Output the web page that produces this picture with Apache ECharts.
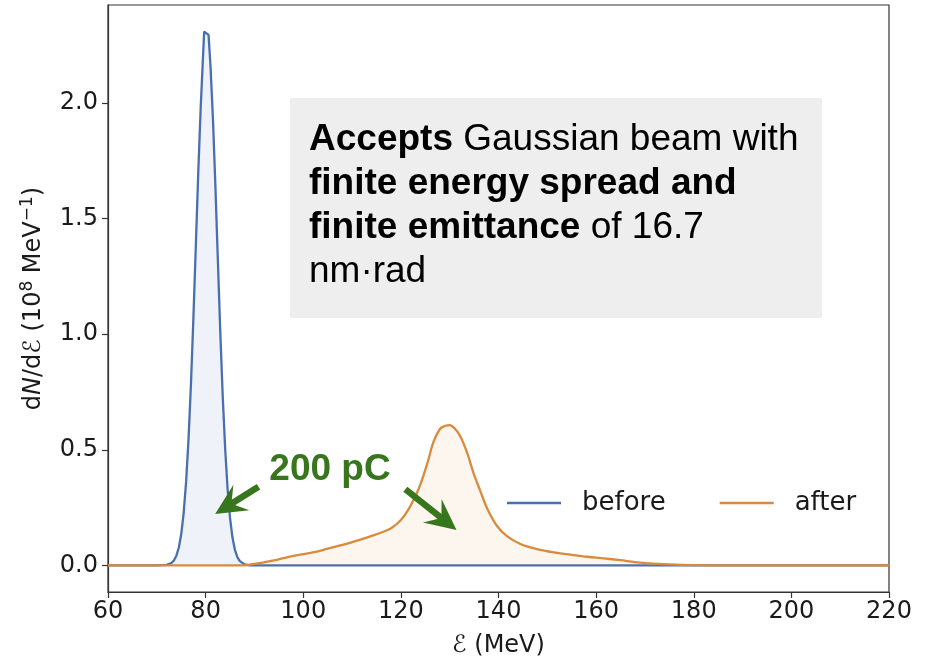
<!DOCTYPE html>
<html>
<head>
<meta charset="utf-8">
<script src="https://cdn.jsdelivr.net/npm/echarts@6/dist/echarts.min.js"></script>
<style>
  html, body { margin: 0; padding: 0; background: #ffffff; }
  #chart { width: 926px; height: 660px; }
</style>
</head>
<body>
<div id="chart"></div>
<script>
// Energy spectrum of the bunch before and after the stage.
// Energies in MeV, spectral density in 10^8 MeV^-1.
const energyBefore = [60, 70, 72, 73, 73.5, 74, 74.5, 75, 75.5, 76, 76.5, 77, 77.5, 78, 78.5, 79,
  79.7, 80.6, 81, 81.5, 82, 82.5, 83, 83.5, 84, 84.5, 85, 85.5, 86, 86.5, 87, 88, 89, 100, 220];
const densityBefore = [0, 0, 0.002, 0.010, 0.021, 0.041, 0.076, 0.134, 0.226, 0.361, 0.547, 0.787, 1.073, 1.388, 1.705, 1.985,
  2.31, 2.296, 2.16, 1.933, 1.643, 1.324, 1.012, 0.734, 0.506, 0.330, 0.205, 0.120, 0.067, 0.035, 0.018, 0.004, 0, 0, 0];

const energyAfter = [60, 80, 88, 90, 92, 94, 96, 98, 100, 102, 104, 106, 108, 110, 112, 114, 116, 118, 120, 121.5, 123, 124,
  125.4, 126.7, 128, 129, 130, 131, 132.2, 133.6, 134.9, 136.3, 137.7, 139.7, 141.8, 144.5, 147.9,
  151.3, 154.8, 158.2, 161.6, 165, 168, 171, 175, 180, 185, 200, 220];
const densityAfter = [0, 0, 0, 0.006, 0.013, 0.021, 0.031, 0.041, 0.048, 0.056, 0.066, 0.078, 0.088, 0.100, 0.113, 0.127, 0.142, 0.160, 0.196, 0.240, 0.30, 0.350,
  0.440, 0.535, 0.590, 0.603, 0.607, 0.593, 0.557, 0.485, 0.398, 0.320, 0.245, 0.170, 0.125, 0.092, 0.070,
  0.056, 0.046, 0.037, 0.030, 0.022, 0.014, 0.008, 0.004, 0.001, 0, 0, 0];

const yTicks = [0, 0.5, 1.0, 1.5, 2.0];
const seriesNames = ['before', 'after'];

// Annotation arrows, tail -> tip, in data coordinates
const arrowLeft = [[90.83, 0.340], [81.95, 0.222]];
const arrowRight = [[120.92, 0.329], [131.4, 0.153]];

const pair = (xs, ys) => xs.map((x, i) => [x, ys[i]]);

const BLUE = '#4a6fae';
const ORANGE = '#da8a3c';
const GREEN = '#38761d';
const INK = '#1a1a1a';
const AXIS = '#333333';
const TICK_FONT = 'DejaVu Sans';
const BOX_FONT = '"Liberation Sans", Arial, sans-serif';

const chart = echarts.init(document.getElementById('chart'), null, { renderer: 'canvas' });

chart.setOption({
  animation: false,
  backgroundColor: '#ffffff',
  grid: {
    left: 108, right: 37, top: 5, bottom: 68,
    outerBoundsMode: 'none', containLabel: false,
    show: true, borderColor: AXIS, borderWidth: 1.2, backgroundColor: '#ffffff'
  },
  legend: {
    data: seriesNames,
    left: 502, top: 485,
    itemWidth: 54, itemHeight: 14, itemGap: 54,
    icon: 'path://M0,6 L54,6 L54,8.4 L0,8.4 Z',
    textStyle: { fontFamily: TICK_FONT, fontSize: 26, color: INK, padding: [0, 0, 0, 16] }
  },
  xAxis: {
    type: 'value', min: 60, max: 220, interval: 20,
    name: 'ℰ (MeV)', nameLocation: 'middle', nameGap: 42,
    nameTextStyle: { fontFamily: TICK_FONT, fontSize: 24, color: INK },
    axisLine: { onZero: false, lineStyle: { color: AXIS, width: 1.2 } },
    axisTick: { show: true, length: 6, lineStyle: { color: AXIS, width: 1.2 } },
    axisLabel: { fontFamily: TICK_FONT, fontSize: 24, color: INK, margin: 8 },
    splitLine: { show: false }
  },
  yAxis: {
    type: 'value', min: -0.1156, max: 2.425,
    name: 'd{i|N}/dℰ (10{s|8} MeV{s|−1})', nameLocation: 'middle', nameGap: 60, nameRotate: 90,
    nameTextStyle: {
      fontFamily: TICK_FONT, fontSize: 24, color: INK,
      rich: {
        i: { fontFamily: TICK_FONT, fontSize: 24, fontStyle: 'italic', color: INK },
        s: { fontFamily: TICK_FONT, fontSize: 17, color: INK, padding: [0, 0, 12, 0] }
      }
    },
    axisLine: { show: true, lineStyle: { color: AXIS, width: 1.2 } },
    axisTick: { show: true, length: 6, customValues: yTicks, lineStyle: { color: AXIS, width: 1.2 } },
    axisLabel: {
      fontFamily: TICK_FONT, fontSize: 24, color: INK, margin: 10,
      customValues: yTicks, formatter: (v) => v.toFixed(1)
    },
    splitLine: { show: false }
  },
  series: [
    {
      name: seriesNames[0], type: 'line', data: pair(energyBefore, densityBefore),
      symbol: 'none', smooth: false, z: 2,
      lineStyle: { color: BLUE, width: 2.3 },
      itemStyle: { color: BLUE },
      areaStyle: { color: 'rgba(74,111,174,0.13)' }
    },
    {
      name: seriesNames[1], type: 'line', data: pair(energyAfter, densityAfter),
      symbol: 'none', smooth: 0.35, z: 3,
      lineStyle: { color: ORANGE, width: 2.3 },
      itemStyle: { color: ORANGE },
      areaStyle: { color: 'rgba(234,150,70,0.12)' }
    }
  ]
});

// Green arrow: shaft plus notched head, built from data-space endpoints
function arrowGraphics(arrow) {
  const p0 = chart.convertToPixel({ gridIndex: 0 }, arrow[0]);
  const p1 = chart.convertToPixel({ gridIndex: 0 }, arrow[1]);
  const dx = p1[0] - p0[0], dy = p1[1] - p0[1];
  const len = Math.hypot(dx, dy);
  const ux = dx / len, uy = dy / len;      // along the arrow
  const nx = -uy, ny = ux;                 // normal
  const L = 31, W = 30, notch = 0.62 * L;
  const tip = p1;
  const back = [tip[0] - ux * L, tip[1] - uy * L];
  const c1 = [back[0] + nx * W / 2, back[1] + ny * W / 2];
  const c2 = [back[0] - nx * W / 2, back[1] - ny * W / 2];
  const mid = [tip[0] - ux * notch, tip[1] - uy * notch];
  return [
    {
      type: 'line', z: 50, silent: true,
      shape: { x1: p0[0], y1: p0[1], x2: mid[0] + ux * 2, y2: mid[1] + uy * 2 },
      style: { stroke: GREEN, lineWidth: 6.5 }
    },
    {
      type: 'polygon', z: 51, silent: true,
      shape: { points: [tip, c1, mid, c2] },
      style: { fill: GREEN }
    }
  ];
}

chart.setOption({
  graphic: [
    {
      type: 'rect', z: 100,
      shape: { x: 290, y: 98, width: 532, height: 220 },
      style: { fill: '#eeeeee' }
    },
    {
      type: 'text', z: 101, x: 309, y: 118,
      style: {
        text: '{b|Accepts} Gaussian beam with\n{b|finite energy spread and}\n{b|finite emittance} of 16.7\nnm·rad',
        font: '37px ' + BOX_FONT,
        fill: '#000000', lineHeight: 44,
        textVerticalAlign: 'top',
        rich: {
          b: { fontWeight: 'bold', fontSize: 37, fontFamily: BOX_FONT, lineHeight: 44 }
        }
      }
    },
    {
      type: 'text', z: 101, x: 330, y: 470,
      style: {
        text: '200 pC',
        font: 'bold 37px ' + BOX_FONT,
        fill: GREEN, textAlign: 'center', textVerticalAlign: 'middle'
      }
    },
    ...arrowGraphics(arrowLeft),
    ...arrowGraphics(arrowRight)
  ]
});
</script>
</body>
</html>
